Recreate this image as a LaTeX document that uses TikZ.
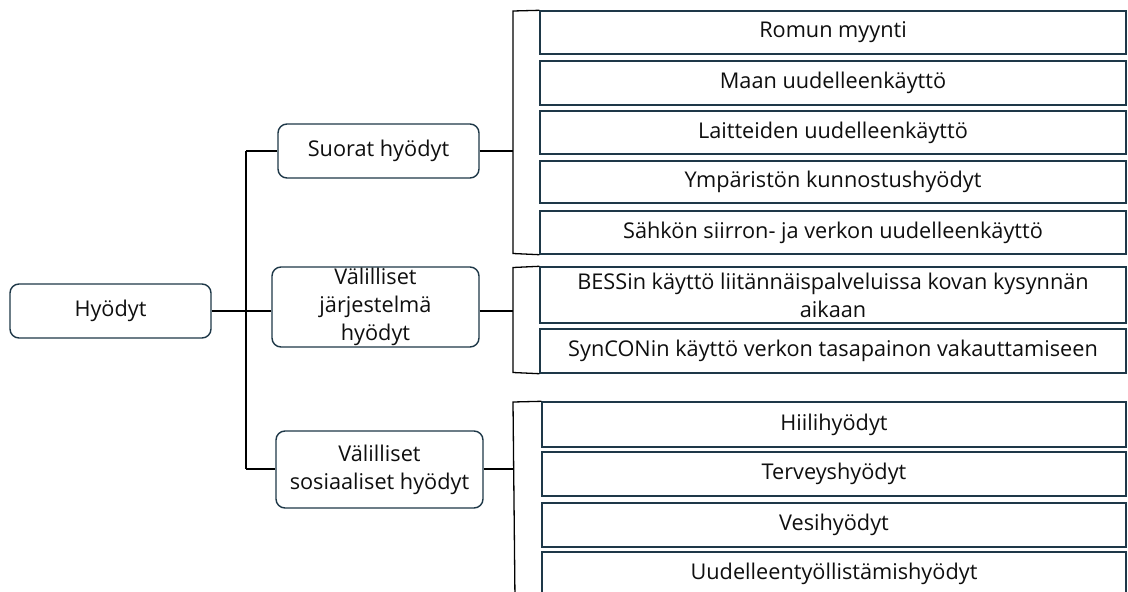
\documentclass[tikz,border=0pt]{standalone}
\usepackage{fontspec}
\setmainfont{Open Sans}
\definecolor{boxc}{RGB}{30,56,72}
\definecolor{txt}{RGB}{15,15,15}
\begin{document}
\begin{tikzpicture}[x=1pt,y=-1pt,
  every node/.style={font=\fontsize{21.7}{28}\selectfont, text=txt, align=center, inner sep=0pt},
  rbox/.style={draw=boxc, line width=1.4pt, rounded corners=9pt},
  sbox/.style={draw=boxc, line width=1.4pt, minimum width=586pt},
  bbox/.style={draw=boxc, line width=1.4pt, minimum width=584pt},
  conn/.style={draw=black, line width=1.3pt}]
\useasboundingbox (0,0) rectangle (1128,592);
\fill[white] (0,0) rectangle (1128,592);
\clip (0,0) rectangle (1128,592);
% left level
\node[rbox, minimum width=201pt, minimum height=54pt] (root) at (110.5,311) {Hyödyt};
\node[rbox, minimum width=201pt, minimum height=54pt] (s1) at (378.5,151) {Suorat hyödyt};
\node[rbox, minimum width=207pt, minimum height=80pt] (s2) at (375.5,307) {Välilliset\\järjestelmä\\hyödyt};
\node[rbox, minimum width=207pt, minimum height=77pt] (s3) at (379.5,469.5) {Välilliset\\sosiaaliset hyödyt};
% right boxes
\node[sbox, minimum height=43pt] (r1) at (833,32.5) {Romun myynti};
\node[sbox, minimum height=44pt] (r2) at (833,83) {Maan uudelleenkäyttö};
\node[sbox, minimum height=43pt] (r3) at (833,132.5) {Laitteiden uudelleenkäyttö};
\node[sbox, minimum height=42pt] (r4) at (833,182) {Ympäristön kunnostushyödyt};
\node[sbox, minimum height=43pt] (r5) at (833,232.5) {Sähkön siirron- ja verkon uudelleenkäyttö};
\node[sbox, minimum height=56pt] (r6) at (833,295) {BESSin käyttö liitännäispalveluissa kovan kysynnän\\aikaan};
\node[sbox, minimum height=44pt] (r7) at (833,351) {SynCONin käyttö verkon tasapainon vakauttamiseen};
\node[bbox, minimum height=45pt] (r8) at (834,424.5) {Hiilihyödyt};
\node[bbox, minimum height=44pt] (r9) at (834,474) {Terveyshyödyt};
\node[bbox, minimum height=44pt] (r10) at (834,525) {Vesihyödyt};
\node[bbox, minimum height=44pt] (r11) at (834,574) {Uudelleentyöllistämishyödyt};
% connector coordinates
\coordinate (t1) at (246,151);
\coordinate (t2) at (246,469);
\coordinate (b1a) at (513,11);
\coordinate (b1b) at (513,253.5);
\coordinate (b2a) at (513,267.5);
\coordinate (b2b) at (513,372.5);
\coordinate (b3a) at (513,402);
\coordinate (b3b) at (515,600);
% trunk
\draw[conn] (root.east) -- (s2.west |- root.east);
\draw[conn] (t1) -- (t2);
\draw[conn] (t1) -- (s1.west);
\draw[conn] (t2) -- (s3.west |- t2);
% brackets
\draw[conn] (s1.east) -- (b1a |- s1.east);
\draw[conn] (r1.north west) -- (b1a) -- (b1b) -- (r5.south west);
\draw[conn] (s2.east |- root.east) -- (b2a |- root.east);
\draw[conn] (r6.north west) -- (b2a) -- (b2b) -- (r7.south west);
\draw[conn] (s3.east |- t2) -- (b3a |- t2);
\draw[conn] (r8.north west) -- (b3a) -- (b3b);
\end{tikzpicture}
\end{document}
